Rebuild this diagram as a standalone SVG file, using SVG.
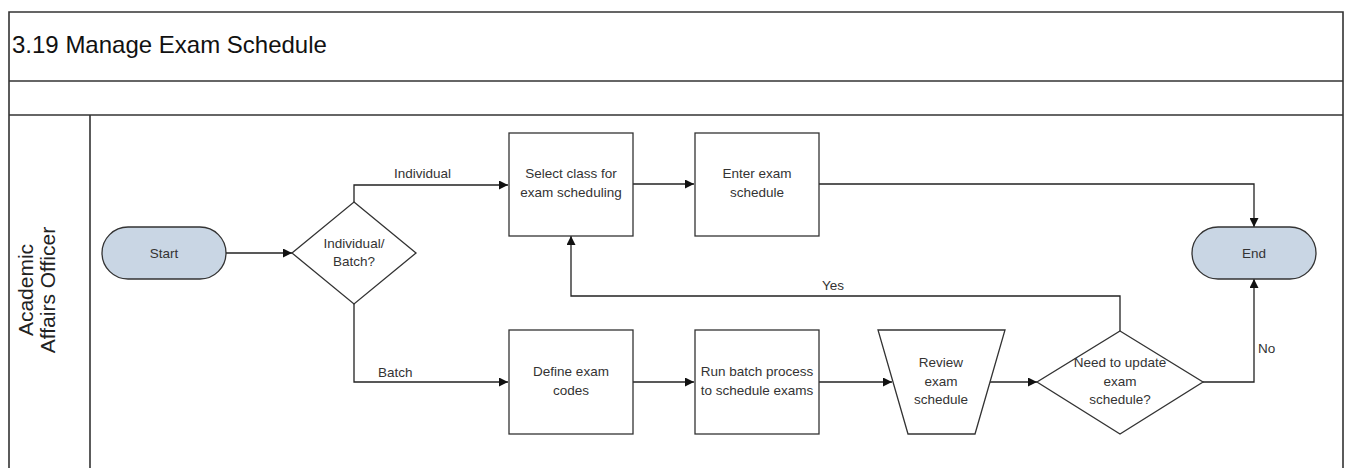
<svg xmlns="http://www.w3.org/2000/svg" width="1351" height="468" viewBox="0 0 1351 468">
<defs>
<style>
.frame{fill:none;stroke:#333;stroke-width:1.6}
.shape{fill:#fff;stroke:#333;stroke-width:1.3}
.term{fill:#c9d6e4;stroke:#333;stroke-width:1.3}
.conn{fill:none;stroke:#222;stroke-width:1.3}
.t{font-family:"Liberation Sans",Arial,sans-serif;font-size:13.5px;fill:#333;text-anchor:middle}
.lbl{font-family:"Liberation Sans",Arial,sans-serif;font-size:13.5px;fill:#333}
.title{font-family:"Liberation Sans",Arial,sans-serif;font-size:24px;fill:#111}
.lane{font-family:"Liberation Sans",Arial,sans-serif;font-size:21px;fill:#222;text-anchor:middle}
</style>
<marker id="arr" viewBox="0 0 10 10" refX="10" refY="5" markerWidth="9" markerHeight="9" markerUnits="userSpaceOnUse" orient="auto">
<path d="M0,0 L10,5 L0,10 z" fill="#111"/>
</marker>
</defs>
<rect width="1351" height="468" fill="#fff"/>
<g id="pool">
<path class="frame" d="M9,480 V12 H1343 V480"/>
<line class="frame" x1="9" y1="81" x2="1343" y2="81"/>
<line class="frame" x1="9" y1="115" x2="1343" y2="115"/>
<line class="frame" x1="90" y1="115" x2="90" y2="480"/>
<text class="title" x="12" y="53">3.19 Manage Exam Schedule</text>
<text class="lane" transform="translate(0,290) rotate(-90)"><tspan x="0" y="33">Academic</tspan><tspan x="0" y="55">Affairs Officer</tspan></text>
</g>
<g id="connectors">
<line class="conn" x1="226" y1="253" x2="292" y2="253" marker-end="url(#arr)"/>
<polyline class="conn" points="354,202 354,185 508,185" marker-end="url(#arr)"/>
<polyline class="conn" points="354,304 354,382 508,382" marker-end="url(#arr)"/>
<line class="conn" x1="633" y1="184" x2="694" y2="184" marker-end="url(#arr)"/>
<polyline class="conn" points="819,184 1254,184 1254,227" marker-end="url(#arr)"/>
<line class="conn" x1="633" y1="382" x2="694" y2="382" marker-end="url(#arr)"/>
<line class="conn" x1="819" y1="382" x2="892" y2="382" marker-end="url(#arr)"/>
<line class="conn" x1="990" y1="382" x2="1037" y2="382" marker-end="url(#arr)"/>
<polyline class="conn" points="1120,331 1120,296 571,296 571,236" marker-end="url(#arr)"/>
<polyline class="conn" points="1203,382 1254,382 1254,279" marker-end="url(#arr)"/>
<text class="lbl" x="394" y="178">Individual</text>
<text class="lbl" x="378" y="377">Batch</text>
<text class="lbl" x="822" y="290">Yes</text>
<text class="lbl" x="1258" y="353">No</text>
</g>
<g id="start">
<rect class="term" x="102" y="227" width="124" height="52" rx="26"/>
<text class="t" x="164" y="258">Start</text>
</g>
<g id="decision1">
<polygon class="shape" points="354,202 416,253 354,304 292,253"/>
<text class="t" x="354" y="248">Individual/</text>
<text class="t" x="354" y="266">Batch?</text>
</g>
<g id="select">
<rect class="shape" x="509" y="133" width="124" height="103"/>
<text class="t" x="571" y="178">Select class for</text>
<text class="t" x="571" y="197">exam scheduling</text>
</g>
<g id="enter">
<rect class="shape" x="695" y="133" width="124" height="103"/>
<text class="t" x="757" y="178">Enter exam</text>
<text class="t" x="757" y="197">schedule</text>
</g>
<g id="define">
<rect class="shape" x="509" y="330" width="124" height="104"/>
<text class="t" x="571" y="376">Define exam</text>
<text class="t" x="571" y="395">codes</text>
</g>
<g id="run">
<rect class="shape" x="695" y="330" width="124" height="104"/>
<text class="t" x="757" y="376">Run batch process</text>
<text class="t" x="757" y="395">to schedule exams</text>
</g>
<g id="review">
<polygon class="shape" points="878,330 1005,330 975,434 908,434"/>
<text class="t" x="941" y="367">Review</text>
<text class="t" x="941" y="386">exam</text>
<text class="t" x="941" y="404">schedule</text>
</g>
<g id="decision2">
<polygon class="shape" points="1120,331 1203,382 1120,434 1037,382"/>
<text class="t" x="1120" y="367">Need to update</text>
<text class="t" x="1120" y="386">exam</text>
<text class="t" x="1120" y="404">schedule?</text>
</g>
<g id="end">
<rect class="term" x="1192" y="227" width="124" height="52" rx="26"/>
<text class="t" x="1254" y="258">End</text>
</g>
</svg>
